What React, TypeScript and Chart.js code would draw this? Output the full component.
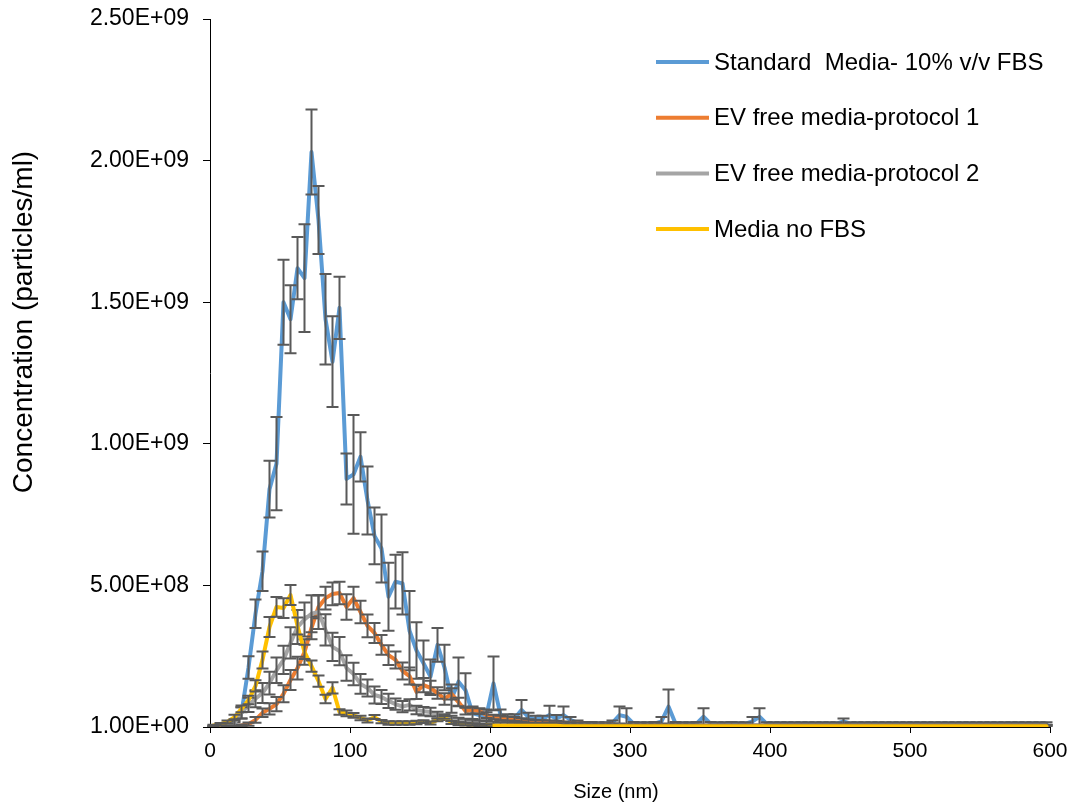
import React, { useEffect, useRef } from "react";
import { Chart, registerables } from "chart.js";

Chart.register(...registerables);

// Units: values below are in 1e9 particles/ml
const UNIT = 1e9;

const SIZES = [
  2.5, 7.5, 12.5, 17.5, 22.5, 27.5, 32.5, 37.5, 42.5, 47.5,
  52.5, 57.5, 62.5, 67.5, 72.5, 77.5, 82.5, 87.5, 92.5, 97.5,
  102.5, 107.5, 112.5, 117.5, 122.5, 127.5, 132.5, 137.5, 142.5, 147.5,
  152.5, 157.5, 162.5, 167.5, 172.5, 177.5, 182.5, 187.5, 192.5, 197.5,
  202.5, 207.5, 212.5, 217.5, 222.5, 227.5, 232.5, 237.5, 242.5, 247.5,
  252.5, 257.5, 262.5, 267.5, 272.5, 277.5, 282.5, 287.5, 292.5, 297.5,
  302.5, 307.5, 312.5, 317.5, 322.5, 327.5, 332.5, 337.5, 342.5, 347.5,
  352.5, 357.5, 362.5, 367.5, 372.5, 377.5, 382.5, 387.5, 392.5, 397.5,
  402.5, 407.5, 412.5, 417.5, 422.5, 427.5, 432.5, 437.5, 442.5, 447.5,
  452.5, 457.5, 462.5, 467.5, 472.5, 477.5, 482.5, 487.5, 492.5, 497.5,
  502.5, 507.5, 512.5, 517.5, 522.5, 527.5, 532.5, 537.5, 542.5, 547.5,
  552.5, 557.5, 562.5, 567.5, 572.5, 577.5, 582.5, 587.5, 592.5, 597.5,
];

const STANDARD = [
  0, 0, 0.003, 0.01, 0.05, 0.21, 0.4, 0.55, 0.84, 0.93,
  1.5, 1.44, 1.62, 1.585, 2.03, 1.79, 1.44, 1.29, 1.48, 0.876,
  0.892, 0.954, 0.8, 0.675, 0.63, 0.46, 0.513, 0.507, 0.34, 0.27,
  0.225, 0.178, 0.29, 0.21, 0.1, 0.16, 0.13, 0.048, 0.042, 0.042,
  0.154, 0.042, 0.03, 0.03, 0.06, 0.035, 0.028, 0.028, 0.042, 0.03,
  0.042, 0.025, 0.015, 0.012, 0.012, 0.012, 0.012, 0.015, 0.042, 0.036,
  0.012, 0.012, 0.012, 0.012, 0.02, 0.072, 0.012, 0.012, 0.012, 0.012,
  0.036, 0.012, 0.012, 0.012, 0.012, 0.012, 0.012, 0.02, 0.036, 0.012,
  0.012, 0.012, 0.012, 0.012, 0.012, 0.012, 0.012, 0.012, 0.012, 0.012,
  0.02, 0.012, 0.012, 0.012, 0.012, 0.012, 0.012, 0.012, 0.012, 0.012,
  0.012, 0.012, 0.012, 0.012, 0.012, 0.012, 0.012, 0.012, 0.012, 0.012,
  0.012, 0.012, 0.012, 0.012, 0.012, 0.012, 0.012, 0.012, 0.012, 0.012,
];
const STANDARD_ERR = [
  0.005, 0.005, 0.005, 0.008, 0.02, 0.04, 0.05, 0.07, 0.1, 0.165,
  0.15, 0.12, 0.11, 0.19, 0.15, 0.12, 0.16, 0.16, 0.11, 0.09,
  0.21, 0.087, 0.12, 0.1, 0.12, 0.12, 0.095, 0.11, 0.14, 0.1,
  0.08, 0.06, 0.06, 0.08, 0.05, 0.085, 0.06, 0.02, 0.02, 0.02,
  0.095, 0.02, 0.015, 0.015, 0.035, 0.015, 0.012, 0.012, 0.033, 0.012,
  0.03, 0.01, 0.008, 0.006, 0.006, 0.005, 0.005, 0.008, 0.03, 0.03,
  0.006, 0.005, 0.005, 0.006, 0.015, 0.06, 0.006, 0.005, 0.005, 0.006,
  0.03, 0.006, 0.005, 0.005, 0.006, 0.005, 0.005, 0.015, 0.03, 0.005,
  0.005, 0.005, 0.005, 0.005, 0.005, 0.005, 0.005, 0.005, 0.005, 0.005,
  0.01, 0.005, 0.005, 0.005, 0.005, 0.005, 0.005, 0.005, 0.005, 0.005,
  0.005, 0.005, 0.005, 0.005, 0.005, 0.005, 0.005, 0.005, 0.005, 0.005,
  0.005, 0.005, 0.005, 0.005, 0.005, 0.005, 0.005, 0.005, 0.005, 0.005,
];

const PROTOCOL1 = [
  0, 0, 0.001, 0.003, 0.005, 0.01, 0.025, 0.05, 0.064, 0.081,
  0.117, 0.166, 0.208, 0.265, 0.35, 0.424, 0.455, 0.47, 0.473, 0.424,
  0.455, 0.406, 0.357, 0.332, 0.29, 0.254, 0.237, 0.198, 0.18, 0.124,
  0.148, 0.138, 0.12, 0.099, 0.117, 0.088, 0.056, 0.06, 0.056, 0.042,
  0.035, 0.032, 0.03, 0.028, 0.025, 0.021, 0.02, 0.019, 0.018, 0.017,
  0.015, 0.013, 0.012, 0.011, 0.01, 0.009, 0.008, 0.008, 0.007, 0.007,
  0.006, 0.006, 0.006, 0.005, 0.005, 0.005, 0.005, 0.005, 0.004, 0.004,
  0.004, 0.004, 0.004, 0.004, 0.004, 0.004, 0.004, 0.004, 0.004, 0.004,
  0.004, 0.004, 0.004, 0.004, 0.004, 0.004, 0.004, 0.004, 0.004, 0.004,
  0.004, 0.004, 0.004, 0.004, 0.004, 0.004, 0.004, 0.004, 0.004, 0.004,
  0.004, 0.004, 0.004, 0.004, 0.004, 0.004, 0.004, 0.004, 0.004, 0.004,
  0.004, 0.004, 0.004, 0.004, 0.004, 0.004, 0.004, 0.004, 0.004, 0.004,
];
const PROTOCOL1_ERR = [
  0.002, 0.002, 0.002, 0.003, 0.004, 0.006, 0.01, 0.015, 0.02, 0.025,
  0.03, 0.035, 0.04, 0.045, 0.04, 0.04, 0.04, 0.04, 0.04, 0.045,
  0.04, 0.04, 0.04, 0.035, 0.035, 0.035, 0.03, 0.03, 0.03, 0.025,
  0.025, 0.025, 0.02, 0.02, 0.02, 0.015, 0.012, 0.012, 0.01, 0.01,
  0.008, 0.008, 0.007, 0.007, 0.006, 0.006, 0.005, 0.005, 0.005, 0.005,
  0.004, 0.004, 0.004, 0.004, 0.004, 0.004, 0.004, 0.004, 0.003, 0.003,
  0.003, 0.003, 0.003, 0.003, 0.003, 0.003, 0.003, 0.003, 0.003, 0.003,
  0.003, 0.003, 0.003, 0.003, 0.003, 0.003, 0.003, 0.003, 0.003, 0.003,
  0.003, 0.003, 0.003, 0.003, 0.003, 0.003, 0.003, 0.003, 0.003, 0.003,
  0.003, 0.003, 0.003, 0.003, 0.003, 0.003, 0.003, 0.003, 0.003, 0.003,
  0.003, 0.003, 0.003, 0.003, 0.003, 0.003, 0.003, 0.003, 0.003, 0.003,
  0.003, 0.003, 0.003, 0.003, 0.003, 0.003, 0.003, 0.003, 0.003, 0.003,
];

const PROTOCOL2 = [
  0, 0, 0.002, 0.014, 0.05, 0.078, 0.1, 0.12, 0.155, 0.2,
  0.237, 0.297, 0.353, 0.38, 0.4, 0.406, 0.343, 0.283, 0.268, 0.208,
  0.187, 0.152, 0.138, 0.113, 0.106, 0.092, 0.081, 0.072, 0.078, 0.06,
  0.056, 0.053, 0.042, 0.035, 0.03, 0.025, 0.021, 0.019, 0.017, 0.015,
  0.014, 0.012, 0.011, 0.01, 0.009, 0.009, 0.008, 0.008, 0.007, 0.007,
  0.006, 0.006, 0.006, 0.005, 0.005, 0.005, 0.005, 0.005, 0.005, 0.005,
  0.005, 0.005, 0.005, 0.005, 0.005, 0.005, 0.005, 0.005, 0.005, 0.005,
  0.004, 0.004, 0.004, 0.004, 0.004, 0.004, 0.004, 0.004, 0.004, 0.004,
  0.004, 0.004, 0.004, 0.004, 0.004, 0.004, 0.004, 0.004, 0.004, 0.004,
  0.004, 0.004, 0.004, 0.004, 0.004, 0.004, 0.004, 0.004, 0.004, 0.004,
  0.004, 0.004, 0.004, 0.004, 0.004, 0.004, 0.004, 0.004, 0.004, 0.004,
  0.004, 0.004, 0.004, 0.004, 0.004, 0.004, 0.004, 0.004, 0.004, 0.004,
];
const PROTOCOL2_ERR = [
  0.002, 0.002, 0.003, 0.01, 0.02, 0.025, 0.03, 0.035, 0.04, 0.045,
  0.05, 0.055, 0.06, 0.06, 0.065, 0.06, 0.055, 0.05, 0.05, 0.045,
  0.04, 0.035, 0.03, 0.03, 0.025, 0.025, 0.02, 0.02, 0.02, 0.015,
  0.015, 0.015, 0.012, 0.01, 0.01, 0.008, 0.008, 0.007, 0.006, 0.006,
  0.005, 0.005, 0.005, 0.005, 0.005, 0.005, 0.005, 0.005, 0.005, 0.005,
  0.004, 0.004, 0.004, 0.004, 0.004, 0.004, 0.004, 0.004, 0.004, 0.004,
  0.004, 0.004, 0.004, 0.004, 0.004, 0.004, 0.004, 0.004, 0.004, 0.004,
  0.004, 0.004, 0.004, 0.004, 0.004, 0.004, 0.004, 0.004, 0.004, 0.004,
  0.004, 0.004, 0.004, 0.004, 0.004, 0.004, 0.004, 0.004, 0.004, 0.004,
  0.004, 0.004, 0.004, 0.004, 0.004, 0.004, 0.004, 0.004, 0.004, 0.004,
  0.004, 0.004, 0.004, 0.004, 0.004, 0.004, 0.004, 0.004, 0.004, 0.004,
  0.004, 0.004, 0.004, 0.004, 0.004, 0.004, 0.004, 0.004, 0.004, 0.004,
];

const NO_FBS = [
  0.005, 0.01, 0.018, 0.035, 0.064, 0.095, 0.145, 0.237, 0.353, 0.424,
  0.42, 0.466, 0.357, 0.265, 0.215, 0.162, 0.099, 0.138, 0.053, 0.048,
  0.041, 0.032, 0.023, 0.035, 0.019, 0.014, 0.014, 0.014, 0.014, 0.016,
  0.019, 0.014, 0.025, 0.034, 0.016, 0.011, 0.01, 0.008, 0.007, 0.006,
  0.004, 0.004, 0.004, 0.004, 0.004, 0.004, 0.004, 0.004, 0.004, 0.004,
  0.003, 0.003, 0.003, 0.003, 0.003, 0.003, 0.003, 0.003, 0.003, 0.003,
  0.003, 0.003, 0.003, 0.003, 0.003, 0.003, 0.003, 0.003, 0.003, 0.003,
  0.003, 0.003, 0.003, 0.003, 0.003, 0.003, 0.003, 0.003, 0.003, 0.003,
  0.003, 0.003, 0.003, 0.003, 0.003, 0.003, 0.003, 0.003, 0.003, 0.003,
  0.003, 0.003, 0.003, 0.003, 0.003, 0.003, 0.003, 0.003, 0.003, 0.003,
  0.003, 0.003, 0.003, 0.003, 0.003, 0.003, 0.003, 0.003, 0.003, 0.003,
  0.003, 0.003, 0.003, 0.003, 0.003, 0.003, 0.003, 0.003, 0.003, 0.003,
];
const NO_FBS_ERR = [
  0.003, 0.004, 0.005, 0.008, 0.012, 0.015, 0.02, 0.03, 0.035, 0.035,
  0.035, 0.035, 0.03, 0.025, 0.02, 0.02, 0.015, 0.02, 0.01, 0.01,
  0.008, 0.008, 0.007, 0.007, 0.006, 0.006, 0.006, 0.006, 0.006, 0.006,
  0.005, 0.005, 0.005, 0.005, 0.005, 0.005, 0.005, 0.004, 0.004, 0.004,
  0, 0, 0, 0, 0, 0, 0, 0, 0, 0,
  0, 0, 0, 0, 0, 0, 0, 0, 0, 0,
  0, 0, 0, 0, 0, 0, 0, 0, 0, 0,
  0, 0, 0, 0, 0, 0, 0, 0, 0, 0,
  0, 0, 0, 0, 0, 0, 0, 0, 0, 0,
  0, 0, 0, 0, 0, 0, 0, 0, 0, 0,
  0, 0, 0, 0, 0, 0, 0, 0, 0, 0,
  0, 0, 0, 0, 0, 0, 0, 0, 0, 0,
];

const SERIES_LABELS = [
  "Standard  Media- 10% v/v FBS",
  "EV free media-protocol 1",
  "EV free media-protocol 2",
  "Media no FBS",
];
const SERIES_COLORS = ["#5B9BD5", "#ED7D31", "#A5A5A5", "#FFC000"];
const SERIES_VALUES = [STANDARD, PROTOCOL1, PROTOCOL2, NO_FBS];
const SERIES_ERRORS = [STANDARD_ERR, PROTOCOL1_ERR, PROTOCOL2_ERR, NO_FBS_ERR];

const X_TITLE = "Size (nm)";
const Y_TITLE = "Concentration (particles/ml)";
const FONT = '"Liberation Sans", Arial, sans-serif';

function fmtSci(v: number): string {
  if (v <= 0) return "0.00E+00";
  const e = Math.floor(Math.log10(v) + 1e-9);
  const m = v / Math.pow(10, e);
  const sign = e < 0 ? "-" : "+";
  return m.toFixed(2) + "E" + sign + String(Math.abs(e)).padStart(2, "0");
}

const errorBarPlugin = {
  id: "errorBars",
  afterDatasetDraw(chart: any, args: any) {
    const ds = chart.data.datasets[args.index];
    const errs: number[] = ds.errors;
    if (!errs) return;
    const meta = args.meta;
    const ys = chart.scales.y;
    const area = chart.chartArea;
    const ctx = chart.ctx;
    ctx.save();
    ctx.beginPath();
    ctx.rect(area.left - 10, area.top - 10, area.right - area.left + 20, area.bottom - area.top + 10);
    ctx.clip();
    ctx.strokeStyle = "#595959";
    ctx.lineWidth = 2;
    meta.data.forEach((pt: any, i: number) => {
      if (!errs[i]) return;
      const v = ds.data[i].y;
      const e = errs[i] * UNIT;
      const top = ys.getPixelForValue(v + e);
      const bot = Math.min(ys.getPixelForValue(v - e), area.bottom);
      const x = pt.x;
      ctx.beginPath();
      ctx.moveTo(x, top);
      ctx.lineTo(x, bot);
      ctx.moveTo(x - 6, top);
      ctx.lineTo(x + 6, top);
      ctx.moveTo(x - 6, bot);
      ctx.lineTo(x + 6, bot);
      ctx.stroke();
    });
    ctx.restore();
  },
};

const decorPlugin = {
  id: "decor",
  afterDraw(chart: any) {
    const ctx = chart.ctx;
    const area = chart.chartArea;
    ctx.save();
    // legend
    const lx = area.left + 446;
    chart.data.datasets.forEach((ds: any, i: number) => {
      const yy = area.top + 43 + i * 55.7;
      ctx.strokeStyle = ds.borderColor;
      ctx.lineWidth = 4;
      ctx.beginPath();
      ctx.moveTo(lx, yy);
      ctx.lineTo(lx + 53, yy);
      ctx.stroke();
      ctx.fillStyle = "#000";
      ctx.font = `24px ${FONT}`;
      ctx.textAlign = "left";
      ctx.textBaseline = "middle";
      ctx.fillText(ds.label, lx + 58, yy + 1);
    });
    // axis titles
    ctx.fillStyle = "#000";
    ctx.font = `20px ${FONT}`;
    ctx.textAlign = "center";
    ctx.textBaseline = "middle";
    ctx.fillText(X_TITLE, 616, 792);
    ctx.translate(24, 322);
    ctx.rotate(-Math.PI / 2);
    ctx.font = `28px ${FONT}`;
    ctx.fillText(Y_TITLE, 0, 0);
    ctx.restore();
  },
};

function zeroPad(s: any) {
  s.paddingTop = 0;
  s.paddingBottom = 0;
  s.paddingLeft = 0;
  s.paddingRight = 0;
}

export default function App() {
  const ref = useRef<HTMLCanvasElement | null>(null);
  useEffect(() => {
    if (!ref.current) return;
    const datasets = SERIES_LABELS.map((label, s) => ({
      label,
      data: SIZES.map((x, i) => ({ x, y: SERIES_VALUES[s][i] * UNIT })),
      errors: SERIES_ERRORS[s],
      borderColor: SERIES_COLORS[s],
      backgroundColor: SERIES_COLORS[s],
      borderWidth: 4,
      pointRadius: 0,
      tension: 0,
      borderJoinStyle: "round",
      borderCapStyle: "round",
      order: 4 - s,
    }));
    const chart = new Chart(ref.current, {
      type: "line",
      data: { datasets } as any,
      options: {
        responsive: false,
        animation: false,
        layout: { padding: { left: 0, right: 29, top: 19, bottom: 0 } },
        plugins: { legend: { display: false }, tooltip: { enabled: false } },
        scales: {
          x: {
            type: "linear",
            min: 0,
            max: 600,
            ticks: { stepSize: 100, color: "#000", font: { family: FONT, size: 21 }, padding: 6 },
            grid: { display: true, drawOnChartArea: false, drawTicks: true, tickLength: 6, color: "#000" },
            border: { color: "#000", width: 1 },
            afterFit: (s: any) => { s.height = 80; zeroPad(s); },
          },
          y: {
            type: "linear",
            min: 1,
            max: 2.5e9,
            ticks: {
              stepSize: 5e8,
              color: "#000",
              font: { family: FONT, size: 23 },
              padding: 14,
              callback: (v: any) => fmtSci(Number(v)),
            },
            grid: { display: true, drawOnChartArea: false, drawTicks: true, tickLength: 7, color: "#000" },
            border: { color: "#000", width: 1 },
            afterFit: (s: any) => { s.width = 210; zeroPad(s); },
          },
        },
      },
      plugins: [errorBarPlugin, decorPlugin],
    } as any);
    return () => chart.destroy();
  }, []);
  return (
    <div style={{ position: "fixed", left: 0, top: 0, width: 1079, height: 807, background: "#fff" }}>
      <canvas ref={ref} width={1079} height={807} />
    </div>
  );
}
